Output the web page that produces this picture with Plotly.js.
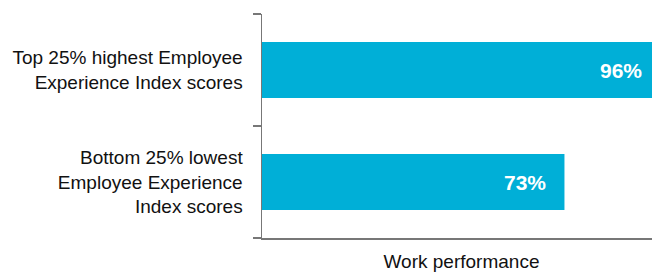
<!DOCTYPE html>
<html>
<head>
<meta charset="utf-8">
<script src="https://cdn.plot.ly/plotly-3.0.1.min.js"></script>
<style>html,body{margin:0;padding:0;background:#fff;overflow:hidden;}#wrap{width:652px;height:272px;overflow:hidden;}#chart{width:661px;height:272px;}</style>
</head>
<body>
<div id="wrap"><div id="chart"></div></div>
<script>
const categories = [
  "Bottom 25% lowest<br>Employee Experience<br>Index scores",
  "Top 25% highest Employee<br>Experience Index scores"
];
const values = [73, 96];
const valueLabels = ["73%", "96%"];
const xTitle = "Work performance";

const FONT = "Liberation Sans, Arial, Helvetica, sans-serif";

const trace = {
  type: "bar",
  orientation: "h",
  y: categories,
  x: values,
  marker: {color: "#00AFD7"},
  hoverinfo: "none"
};

const annotations = values.map((v, i) => ({
  x: v, y: categories[i], xref: "x", yref: "y",
  text: valueLabels[i], showarrow: false,
  xanchor: "right", yanchor: "middle", xshift: -16,
  font: {family: FONT, size: 21, color: "#ffffff", weight: "bold"}
}));

const layout = {
  width: 661, height: 272,
  margin: {l: 262, r: 0, t: 14, b: 34},
  paper_bgcolor: "#fff", plot_bgcolor: "#fff",
  showlegend: false,
  bargap: 0.5,
  font: {family: FONT, size: 19, color: "#111"},
  annotations: annotations,
  xaxis: {
    range: [0, 96.3],
    showgrid: false, zeroline: false,
    showline: true, linecolor: "#777", linewidth: 1.5,
    showticklabels: false, ticks: "",
    title: {text: xTitle, font: {size: 19, color: "#111"}, standoff: 16}
  },
  yaxis: {
    type: "category",
    showgrid: false, zeroline: false,
    showline: true, linecolor: "#777", linewidth: 1.5,
    ticks: "outside", ticklen: 8, tickcolor: "#777", tickwidth: 1.5,
    tickson: "boundaries",
    ticklabelstandoff: 14,
    tickfont: {size: 19, color: "#111"}
  }
};

Plotly.newPlot("chart", [trace], layout, {displayModeBar: false, staticPlot: true});
</script>
</body>
</html>
